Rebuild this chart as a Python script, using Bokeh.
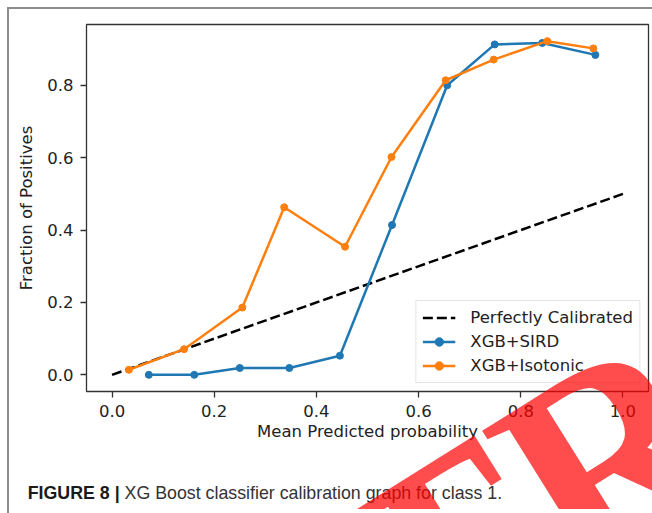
from bokeh.plotting import figure
from bokeh.models import FixedTicker, Range1d, Legend, Div
from bokeh.layouts import column
from bokeh.embed import file_html
from bokeh.resources import INLINE

# ---- data ----
perfect_x = [0.0, 1.0]
perfect_y = [0.0, 0.5]

sird_x = [0.072, 0.161, 0.250, 0.347, 0.446, 0.548, 0.656, 0.749, 0.842, 0.946]
sird_y = [0.000, 0.000, 0.019, 0.019, 0.053, 0.414, 0.800, 0.913, 0.917, 0.884]

iso_x = [0.033, 0.141, 0.255, 0.337, 0.456, 0.547, 0.653, 0.747, 0.852, 0.942]
iso_y = [0.014, 0.071, 0.186, 0.463, 0.354, 0.602, 0.814, 0.871, 0.922, 0.902]

x_ticks = [0.0, 0.2, 0.4, 0.6, 0.8, 1.0]
x_tick_labels = ["0.0", "0.2", "0.4", "0.6", "0.8", "1.0"]
y_ticks = [0.0, 0.2, 0.4, 0.6, 0.8]
y_tick_labels = ["0.0", "0.2", "0.4", "0.6", "0.8"]

series_names = ["Perfectly Calibrated", "XGB+SIRD", "XGB+Isotonic"]
caption_bold = "FIGURE 8 |"
caption_text = "XG Boost classifier calibration graph for class 1."
watermark = "TR"

FONT = "DejaVu Sans"
FS = "16.5px"
W, H = 643, 495
OH = 500  # overlay height

p = figure(width=W, height=H,
           x_range=Range1d(-0.05, 1.05), y_range=Range1d(-0.046, 0.968),
           output_backend="svg", toolbar_location=None,
           min_border_left=77, min_border_right=4, min_border_top=15, min_border_bottom=113)
p.xgrid.visible = False
p.ygrid.visible = False
p.outline_line_color = "#333333"
p.outline_line_width = 1.3
p.background_fill_color = "white"
p.border_fill_color = "white"

for ax in (p.xaxis[0], p.yaxis[0]):
    ax.axis_line_color = None
    ax.major_tick_out = 6
    ax.major_tick_in = 0
    ax.minor_tick_line_color = None
    ax.major_tick_line_color = "#333333"
    ax.major_tick_line_width = 1.3
    ax.major_label_text_font = FONT
    ax.major_label_text_font_size = FS
    ax.major_label_text_color = "#222222"
    ax.major_label_standoff = 7
    ax.axis_label_text_font = FONT
    ax.axis_label_text_font_size = FS
    ax.axis_label_text_font_style = "normal"
    ax.axis_label_text_color = "#222222"

p.xaxis.ticker = FixedTicker(ticks=x_ticks)
p.yaxis.ticker = FixedTicker(ticks=y_ticks)
p.xaxis.major_label_overrides = {t: l for t, l in zip(x_ticks, x_tick_labels)}
p.yaxis.major_label_overrides = {t: l for t, l in zip(y_ticks, y_tick_labels)}
p.xaxis.axis_label = "Mean Predicted probability"
p.yaxis.axis_label = "Fraction of Positives"
p.xaxis.axis_label_standoff = 2
p.yaxis.axis_label_standoff = 8

r0 = p.line(perfect_x, perfect_y, line_color="black", line_width=2.5, line_dash="10 4")
r1 = p.line(sird_x, sird_y, line_color="#1f77b4", line_width=2.5)
s1 = p.scatter(sird_x, sird_y, size=7, color="#1f77b4")
r2 = p.line(iso_x, iso_y, line_color="#ff7f0e", line_width=2.5)
s2 = p.scatter(iso_x, iso_y, size=7, color="#ff7f0e")

legend = Legend(items=[(series_names[0], [r0]), (series_names[1], [r1, s1]),
                       (series_names[2], [r2, s2])],
                location="bottom_right", margin=8, padding=6, spacing=3,
                glyph_width=33, glyph_height=21, label_height=21, label_standoff=15,
                border_line_color="#cccccc", border_line_width=1,
                background_fill_color="white", background_fill_alpha=0.85,
                label_text_font=FONT, label_text_font_size=FS, label_text_color="#222222")
p.add_layout(legend)

# ---- HTML overlay for the caption and the red stamp (positions in px of the overlay) ----
overlay_html = (
    '<div style="position:relative;width:%dpx;height:%dpx;overflow:hidden;">' % (W, OH)
    + '<div style="position:absolute;left:13.7px;top:473.5px;white-space:nowrap;'
      "font-family:'Liberation Sans';font-size:17.8px;line-height:20px;color:#333333;\">"
    + '<b style="color:#1a1a1a">%s</b> %s</div>' % (caption_bold, caption_text)
    + '<div style="position:absolute;left:518px;top:496px;'
      'transform:translate(-50%,-50%) rotate(-32deg);'
      "font-family:'Liberation Serif';font-weight:bold;font-size:280px;line-height:1;"
      'color:rgba(255,0,0,0.7);white-space:nowrap;">'
    + watermark + '</div></div>'
)
overlay = Div(text=overlay_html, width=W, height=OH, styles={"margin-top": "-%dpx" % H})

layout = column(p, overlay, styles={"margin-left": "7px", "margin-top": "7px",
                                    "border-left": "2px solid #8c8c8c",
                                    "border-top": "2px solid #8c8c8c"})

open("out.html", "w").write(file_html(layout, INLINE))
